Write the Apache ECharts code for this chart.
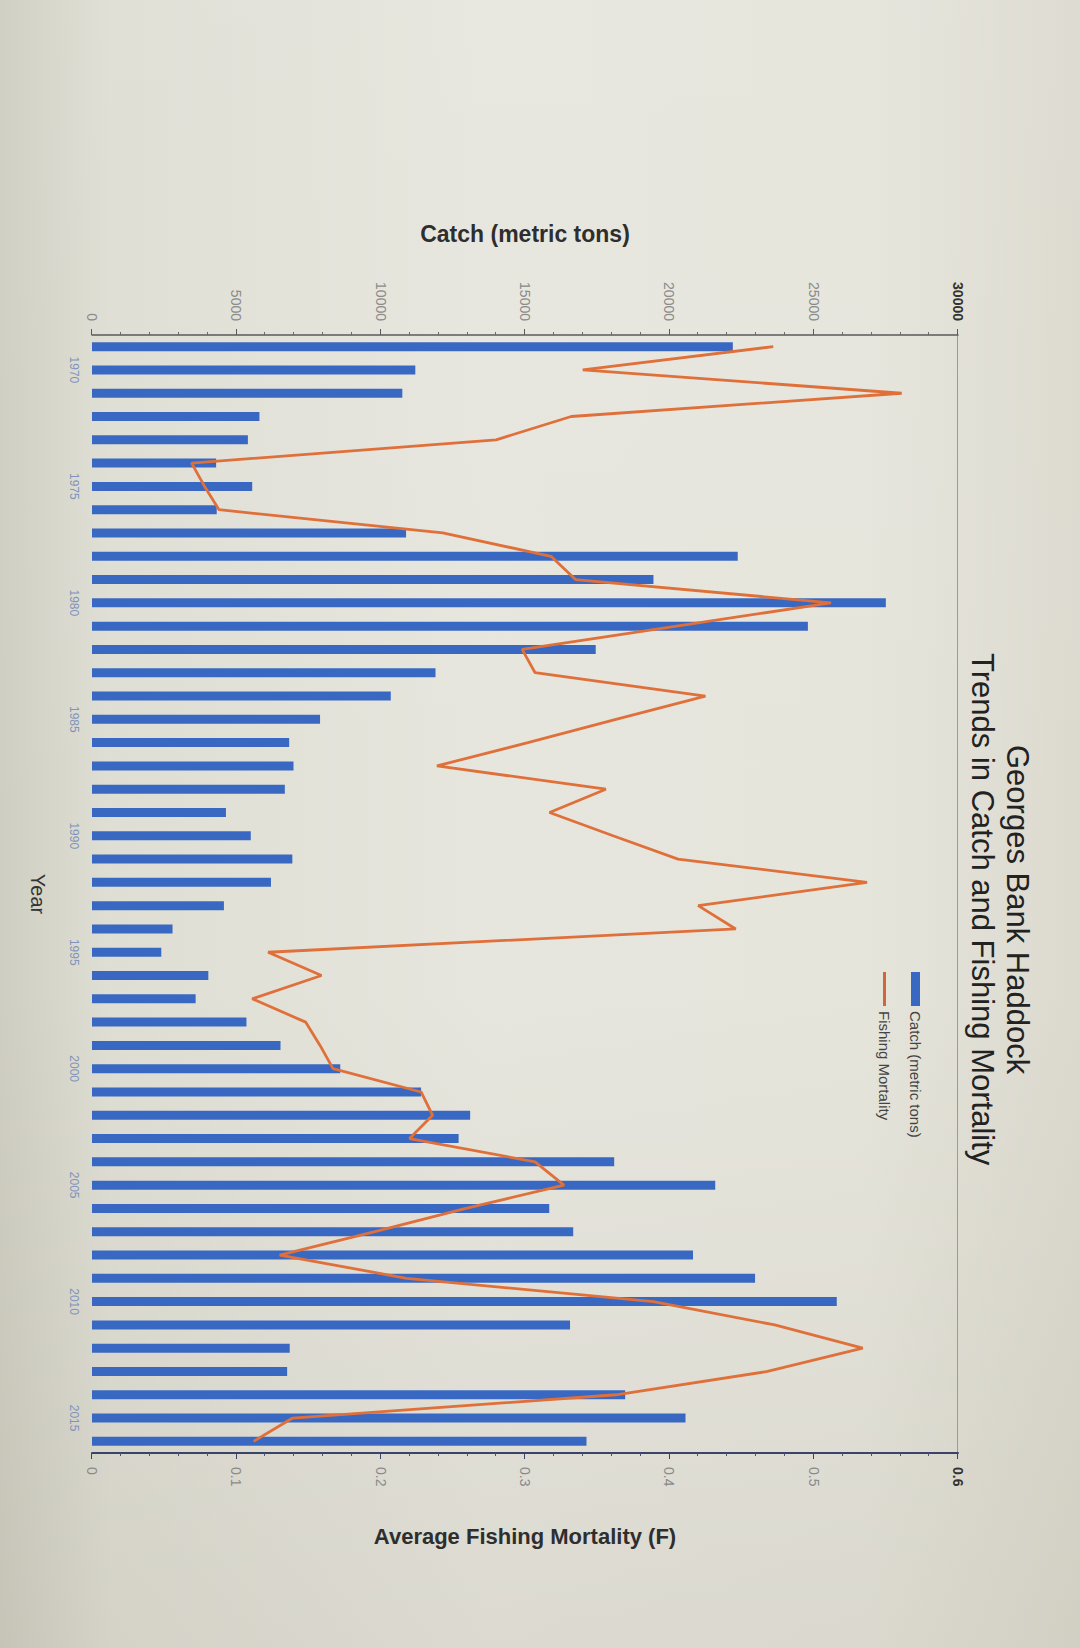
<!DOCTYPE html>
<html>
<head>
<meta charset="utf-8">
<script src="https://cdn.jsdelivr.net/npm/echarts@6/dist/echarts.min.js"></script>
<style>
  html, body { margin:0; padding:0; width:1080px; height:1648px; overflow:hidden; }
  body {
    background:
      linear-gradient(180deg, rgba(255,255,255,0.05) 0%, rgba(255,255,255,0.0) 60%, rgba(120,110,90,0.10) 100%),
      linear-gradient(90deg, #cfcec2 0%, #dfded4 10%, #e7e6de 45%, #e6e5dc 80%, #dcdacf 100%);
  }
  #chart {
    position:absolute; left:-284px; top:284px; width:1648px; height:1080px;
    transform: rotate(90deg); transform-origin: 50% 50%;
  }
</style>
</head>
<body>
<div id="chart"></div>
<script>
// ---- data ----
const years = [1969,1970,1971,1972,1973,1974,1975,1976,1977,1978,1979,1980,1981,1982,1983,1984,1985,1986,1987,1988,1989,1990,1991,1992,1993,1994,1995,1996,1997,1998,1999,2000,2001,2002,2003,2004,2005,2006,2007,2008,2009,2010,2011,2012,2013,2014,2015,2016];
const catchTons = [22200,11200,10750,5800,5400,4300,5550,4320,10880,22370,19450,27500,24800,17450,11900,10350,7900,6830,6980,6680,4640,5500,6940,6200,4570,2790,2400,4030,3590,5350,6530,8600,11400,13100,12700,18090,21590,15840,16670,20820,22970,25800,16560,6850,6760,18470,20560,17130];
const fishingMortality = [0.472,0.340,0.561,0.332,0.280,0.069,0.078,0.088,0.243,0.318,0.335,0.512,0.405,0.298,0.307,0.425,0.363,0.302,0.239,0.356,0.317,0.361,0.406,0.537,0.420,0.446,0.122,0.159,0.111,0.148,0.158,0.167,0.228,0.236,0.220,0.307,0.327,0.259,0.196,0.130,0.218,0.389,0.473,0.534,0.468,0.363,0.139,0.112];
const catchTicks = { min: 0, max: 30000, interval: 5000 };
const fTicks = { min: 0, max: 0.6, interval: 0.1 };
const titleLine1 = 'Georges Bank Haddock';
const titleLine2 = 'Trends in Catch and Fishing Mortality';

const FONT = '"Liberation Sans", Arial, Helvetica, sans-serif';
const chart = echarts.init(document.getElementById('chart'), null, { renderer: 'svg', width: 1648, height: 1080 });

chart.setOption({
  backgroundColor: 'transparent',
  animation: false,
  textStyle: { fontFamily: FONT },
  title: [
    { text: titleLine1, left: 740, top: 42,
      textStyle: { fontFamily: FONT, fontSize: 31, fontWeight: 'normal', color: '#222' } },
    { text: titleLine2, left: 648, top: 77,
      textStyle: { fontFamily: FONT, fontSize: 31, fontWeight: 'normal', color: '#222' } }
  ],
  legend: {
    orient: 'vertical', left: 967, top: 152, itemWidth: 34, itemHeight: 9, itemGap: 16,
    textStyle: { fontFamily: FONT, fontSize: 15, color: '#444' },
    data: [
      { name: 'Catch (metric tons)', icon: 'rect' },
      { name: 'Fishing Mortality', icon: 'path://M0,0 L34,0 L34,3 L0,3 Z' }
    ]
  },
  grid: { left: 335, right: 195, top: 122, bottom: 92, containLabel: false },
  xAxis: {
    type: 'category', data: years, boundaryGap: true,
    name: 'Year', nameLocation: 'middle', nameGap: 44,
    nameTextStyle: { fontFamily: FONT, fontSize: 20, color: '#333' },
    axisLine: { show: false }, axisTick: { show: false },
    axisLabel: {
      interval: function (idx, val) { return Number(val) % 5 === 0; },
      fontSize: 12, color: '#7f93bb', margin: 12, fontFamily: FONT
    }
  },
  yAxis: [
    {
      type: 'value', position: 'left', min: catchTicks.min, max: catchTicks.max, interval: catchTicks.interval,
      name: 'Catch (metric tons)', nameLocation: 'middle', nameRotate: 90, nameGap: 90,
      nameTextStyle: { fontFamily: FONT, fontSize: 23, fontWeight: 'bold', color: '#2e2e2e' },
      axisLine: { show: true, lineStyle: { color: '#5a5a5a', width: 1.5 } },
      axisTick: { show: true, inside: false, length: 6, lineStyle: { color: '#5a5a5a' } },
      minorTick: { show: true, splitNumber: 5, length: 3, lineStyle: { color: '#6a6a6a' } },
      axisLabel: {
        fontSize: 14, color: '#8a8a8a', margin: 14, fontFamily: FONT,
        formatter: function (v) { return v === catchTicks.max ? '{m|' + v + '}' : String(v); },
        rich: { m: { fontSize: 14, fontWeight: 'bold', color: '#333', fontFamily: FONT } }
      },
      splitLine: { show: true, lineStyle: { color: ['transparent','transparent','transparent','transparent','transparent','transparent','#9c9b94'], width: 1 } }
    },
    {
      type: 'value', position: 'right', min: fTicks.min, max: fTicks.max, interval: fTicks.interval,
      name: 'Average Fishing Mortality (F)', nameLocation: 'middle', nameRotate: 90, nameGap: 72,
      nameTextStyle: { fontFamily: FONT, fontSize: 22, fontWeight: 'bold', color: '#2e2e2e' },
      axisLine: { show: true, lineStyle: { color: '#3a4468', width: 2 } },
      axisTick: { show: true, inside: false, length: 6, lineStyle: { color: '#3a4468' } },
      minorTick: { show: true, splitNumber: 5, length: 3, lineStyle: { color: '#4a5470' } },
      axisLabel: {
        fontSize: 14, color: '#8a8a8a', margin: 14, fontFamily: FONT,
        formatter: function (v) { return Math.abs(v - fTicks.max) < 1e-9 ? '{m|' + v + '}' : String(v); },
        rich: { m: { fontSize: 14, fontWeight: 'bold', color: '#333', fontFamily: FONT } }
      },
      splitLine: { show: false }
    }
  ],
  series: [
    {
      name: 'Catch (metric tons)', type: 'bar', data: catchTons, yAxisIndex: 0,
      barWidth: 9, itemStyle: { color: '#3868c2' }
    },
    {
      name: 'Fishing Mortality', type: 'line', data: fishingMortality, yAxisIndex: 1,
      symbol: 'none', z: 5,
      lineStyle: { color: '#e0703a', width: 2.8 },
      itemStyle: { color: '#d0663a' }
    }
  ]
});
</script>
</body>
</html>
